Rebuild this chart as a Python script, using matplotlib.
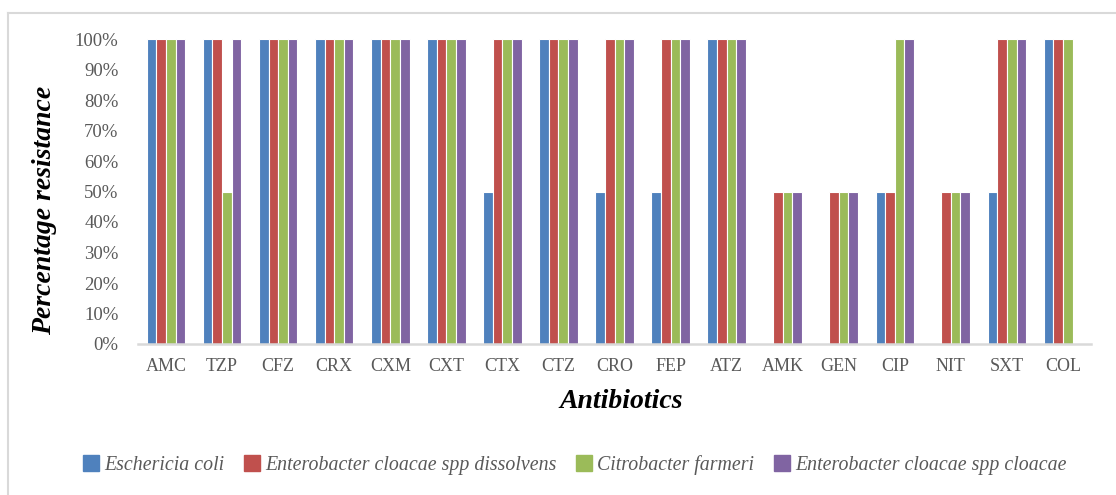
import matplotlib
matplotlib.use("Agg")
import matplotlib.pyplot as plt
import numpy as np
from matplotlib.lines import Line2D

categories = ["AMC", "TZP", "CFZ", "CRX", "CXM", "CXT", "CTX", "CTZ", "CRO",
              "FEP", "ATZ", "AMK", "GEN", "CIP", "NIT", "SXT", "COL"]
series_names = ["Eschericia coli", "Enterobacter cloacae spp dissolvens",
                "Citrobacter farmeri", "Enterobacter cloacae spp cloacae"]
e_coli =       [100, 100, 100, 100, 100, 100, 50, 100, 50, 50, 100, 0, 0, 50, 0, 50, 100]
ent_dissolv =  [100, 100, 100, 100, 100, 100, 100, 100, 100, 100, 100, 50, 50, 50, 50, 100, 100]
citro =        [100, 50, 100, 100, 100, 100, 100, 100, 100, 100, 100, 50, 50, 100, 50, 100, 100]
ent_cloacae =  [100, 100, 100, 100, 100, 100, 100, 100, 100, 100, 100, 50, 50, 100, 50, 100, 0]
yticks = [0, 10, 20, 30, 40, 50, 60, 70, 80, 90, 100]
ytick_labels = [f"{v}%" for v in yticks]

colors = ["#4F81BD", "#C0504D", "#9BBB59", "#8064A2"]
series = [e_coli, ent_dissolv, citro, ent_cloacae]

W, H = 1116, 495
fig = plt.figure(figsize=(W / 100, H / 100), dpi=100)
ax = fig.add_axes([138 / W, (H - 344) / H, (1091 - 138) / W, (344 - 39) / H])

serif = ["Liberation Serif", "DejaVu Serif"]
x = np.arange(len(categories))
bw = 0.172
for i, (vals, c) in enumerate(zip(series, colors)):
    ax.bar(x + (i - 1.5) * bw, vals, width=bw, color=c, edgecolor="white",
           linewidth=0.8, label=series_names[i], zorder=2)

ax.set_xlim(-0.5, len(categories) - 0.5)
ax.set_ylim(0, 100)
ax.set_yticks(yticks)
ax.set_yticklabels(ytick_labels, fontfamily=serif, fontsize=13.5, color="#595959")
ax.set_xticks(x)
ax.set_xticklabels(categories, fontfamily=serif, fontsize=13, color="#595959")
ax.tick_params(axis="both", length=0)
ax.tick_params(axis="y", pad=14)
ax.tick_params(axis="x", pad=10)
for s in ["top", "right", "left"]:
    ax.spines[s].set_visible(False)
ax.spines["bottom"].set_color("#D9D9D9")
ax.spines["bottom"].set_linewidth(1.8)
ax.spines["bottom"].set_zorder(3)

fig.text(45 / W, 1 - 210 / H, "Percentage resistance", rotation=90, ha="center",
         va="center", fontfamily=serif, fontsize=20, fontweight="bold", fontstyle="italic")
fig.text(621 / W, 1 - 401 / H, "Antibiotics", ha="center", va="center",
         fontfamily=serif, fontsize=20, fontweight="bold", fontstyle="italic")

handles = [plt.Rectangle((0, 0), 1, 1, color=c) for c in colors]
leg = fig.legend(handles, series_names, loc="center", bbox_to_anchor=(575 / W, 1 - 465 / H),
                 ncol=4, frameon=False, handlelength=0.8, handleheight=0.8,
                 handletextpad=0.25, columnspacing=1.0,
                 prop={"family": serif, "style": "italic", "size": 14.3})
for t in leg.get_texts():
    t.set_color("#595959")

# chart frame (top and left edge)
fig.add_artist(Line2D([8 / W, 8 / W], [0, 1 - 13 / H], transform=fig.transFigure,
                      color="#D9D9D9", linewidth=1.5))
fig.add_artist(Line2D([8 / W, 1], [1 - 13 / H, 1 - 13 / H], transform=fig.transFigure,
                      color="#D9D9D9", linewidth=1.5))

fig.savefig("out.png", dpi=100)
